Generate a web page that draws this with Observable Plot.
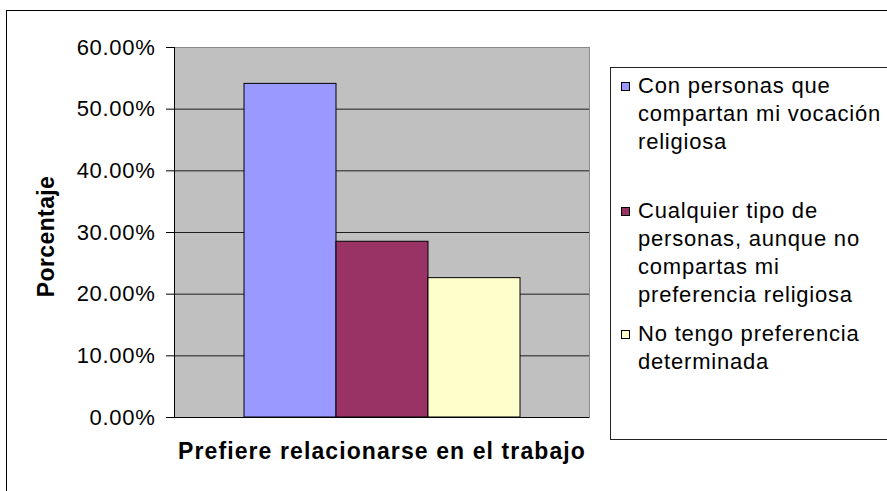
<!DOCTYPE html>
<html>
<head>
<meta charset="utf-8">
<script src="https://cdn.jsdelivr.net/npm/d3@7"></script>
<script src="https://cdn.jsdelivr.net/npm/@observablehq/plot@0.6"></script>
<style>
  html, body { margin: 0; padding: 0; background: #fff; overflow: hidden; }
  #wrap { position: relative; width: 887px; height: 491px; overflow: hidden; font-family: "Liberation Sans", Arial, sans-serif; }
  #chart-border { position: absolute; left: 6px; top: 10px; width: 920px; height: 520px; border: 1px solid #000; box-sizing: border-box; }
  #chart { position: absolute; left: 0; top: 0; }
  #chart svg text { letter-spacing: 0.7px; }
  #legend { position: absolute; left: 610px; top: 67px; width: 400px; height: 373px; border: 1px solid #222; box-sizing: border-box; background: #fff; }
  .item { position: absolute; left: 0; }
  .swatch { position: absolute; left: 10px; top: 10px; width: 9px; height: 9px; border: 1px solid #000; box-sizing: border-box; }
  .label { position: absolute; left: 27px; top: 0; width: 252px; font-size: 22px; line-height: 28.3px; letter-spacing: 0.8px; color: #000; }
</style>
</head>
<body>
<div id="wrap">
  <div id="chart-border"></div>
  <div id="chart"></div>
  <div id="legend"></div>
</div>
<script>
// Survey answers: with whom respondents prefer to relate at work
const series = [
  "Con personas que compartan mi vocación religiosa",
  "Cualquier tipo de personas, aunque no compartas mi preferencia religiosa",
  "No tengo preferencia determinada"
];
const shares = [0.541, 0.285, 0.226];
const colors = ["#9999FF", "#993366", "#FFFFCC"];
const yTicks = [0, 0.1, 0.2, 0.3, 0.4, 0.5, 0.6];
const yTitle = "Porcentaje";
const xTitle = "Prefiere relacionarse en el trabajo";

const data = series.map((name, i) => ({name, share: shares[i]}));

const chart = Plot.plot({
  width: 887,
  height: 491,
  marginLeft: 174,
  marginRight: 298,
  marginTop: 47,
  marginBottom: 74,
  style: {fontFamily: "'Liberation Sans', Arial, sans-serif", fontSize: "22px", color: "#000", background: "transparent"},
  x: {domain: series, padding: 0, insetLeft: 69, insetRight: 69, axis: null},
  y: {domain: [0, 0.6]},
  color: {domain: series, range: colors},
  marks: [
    Plot.frame({fill: "#C0C0C0"}),
    Plot.gridY(yTicks.slice(1, -1), {stroke: "#000", strokeOpacity: 0.85}),
    Plot.frame({stroke: "#8a8a8a"}),
    Plot.barY(data, {x: "name", y: "share", fill: "name", stroke: "#000", strokeWidth: 1}),
    Plot.frame({anchor: "left", stroke: "#000"}),
    Plot.ruleY([0], {stroke: "#000"}),
    Plot.axisY(yTicks, {tickSize: 8, tickPadding: 11, tickFormat: d3.format(".2%"), label: null, stroke: "#000", fill: "#000"}),
    Plot.text([yTitle], {frameAnchor: "left", textAnchor: "middle", rotate: -90, dx: -128, dy: 4, fontWeight: "bold", fontSize: 23, fill: "#000"}),
    Plot.text([xTitle], {frameAnchor: "bottom", textAnchor: "middle", dy: 41, fontWeight: "bold", fontSize: 23, fill: "#000"})
  ]
});
document.getElementById("chart").appendChild(chart);

// Title spacing: the horizontal title is set a little looser, the vertical one tighter
const texts = d3.select(chart).selectAll("text");
texts.filter(function () { return this.textContent === xTitle; }).style("letter-spacing", "1.1px");
texts.filter(function () { return this.textContent === yTitle; }).style("letter-spacing", "0.4px");

// Legend to the right of the plot, one entry per series
const legendTops = [3.5, 128.5, 252];
const legend = d3.select("#legend");
series.forEach((name, i) => {
  const item = legend.append("div").attr("class", "item").style("top", legendTops[i] + "px");
  item.append("div").attr("class", "swatch").style("background", colors[i]);
  item.append("div").attr("class", "label").text(name);
});
</script>
</body>
</html>
